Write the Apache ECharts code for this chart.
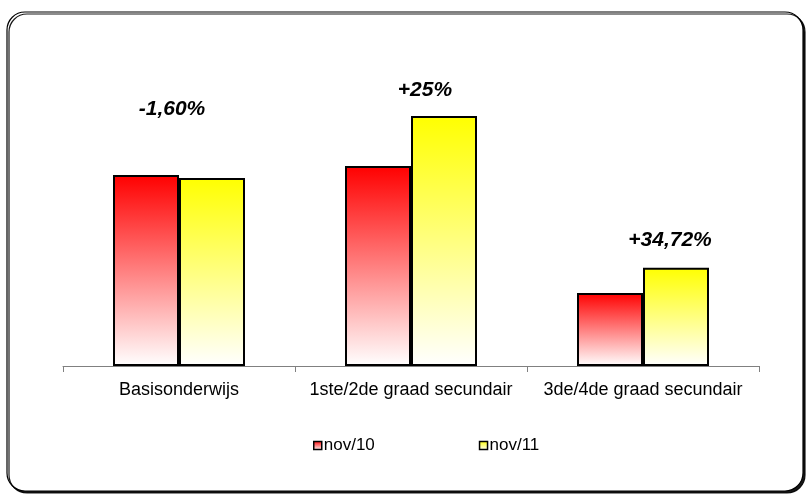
<!DOCTYPE html>
<html><head><meta charset="utf-8">
<script src="https://cdn.jsdelivr.net/npm/echarts@6/dist/echarts.min.js"></script>
<style>html,body{margin:0;padding:0;background:#fff}#c{width:808px;height:496px}</style>
</head><body><div id="c"></div>
<script>
const categories = ['Basisonderwijs', '1ste/2de graad secundair', '3de/4de graad secundair'];
const seriesNames = ['nov/10', 'nov/11'];
const nov10 = [191, 200, 73];
const nov11 = [188, 250, 98.3];
const annotationText = ['-1,60%', '+25%', '+34,72%'];
const annotationValue = [257, 276, 126];
const annotationShift = [-40, -19, -6];

function grad(c) {
  return new echarts.graphic.LinearGradient(0, 0, 0, 1, [
    { offset: 0, color: c }, { offset: 1, color: '#ffffff' }
  ]);
}
const chart = echarts.init(document.getElementById('c'));
chart.setOption({
  animation: false,
  graphic: [{
    type: 'rect', z: -10,
    shape: { x: 7, y: 12, width: 796, height: 479, r: 18 },
    style: { fill: '#fff', stroke: '#000', lineWidth: 1.2, shadowColor: 'rgba(0,0,0,0.9)', shadowOffsetX: 2, shadowOffsetY: 2, shadowBlur: 0 }
  }],
  grid: { left: 63, right: 49, top: 66, bottom: 130 },
  legend: {
    top: 432, left: 308, itemGap: 104, itemWidth: 8, itemHeight: 8,
    textStyle: { fontFamily: 'Liberation Sans, Arial', fontSize: 17, color: '#000', padding: [0, 0, 0, -3] },
    data: seriesNames.map((n, i) => ({ name: n, icon: 'rect', itemStyle: { borderColor: '#000', borderWidth: 1.5, color: grad(i ? '#ffff00' : '#ff0000') } }))
  },
  xAxis: {
    type: 'category', data: categories,
    axisLine: { show: true, lineStyle: { color: '#808080', width: 1 } },
    axisTick: { show: true, alignWithLabel: false, interval: 0, length: 6, lineStyle: { color: '#808080' } },
    axisLabel: { interval: 0, color: '#000', fontFamily: 'Liberation Sans, Arial', fontSize: 18, margin: 15 }
  },
  yAxis: { type: 'value', min: 0, max: 300, show: false, splitLine: { show: false } },
  series: [
    { name: seriesNames[0], type: 'bar', data: nov10, barWidth: 66, barGap: '0%',
      itemStyle: { color: grad('#ff0000'), borderColor: '#000', borderWidth: 2 } },
    { name: seriesNames[1], type: 'bar', data: nov11, barWidth: 66,
      itemStyle: { color: grad('#ffff00'), borderColor: '#000', borderWidth: 2 },
      markPoint: {
        symbol: 'rect', symbolSize: 0,
        label: { show: true, position: 'inside', fontFamily: 'Liberation Sans, Arial', fontSize: 21, fontWeight: 'bold', fontStyle: 'italic', color: '#000' },
        data: categories.map((c, i) => ({ coord: [c, annotationValue[i]], label: { formatter: annotationText[i], offset: [annotationShift[i], 0] } }))
      } }
  ]
});
</script></body></html>
